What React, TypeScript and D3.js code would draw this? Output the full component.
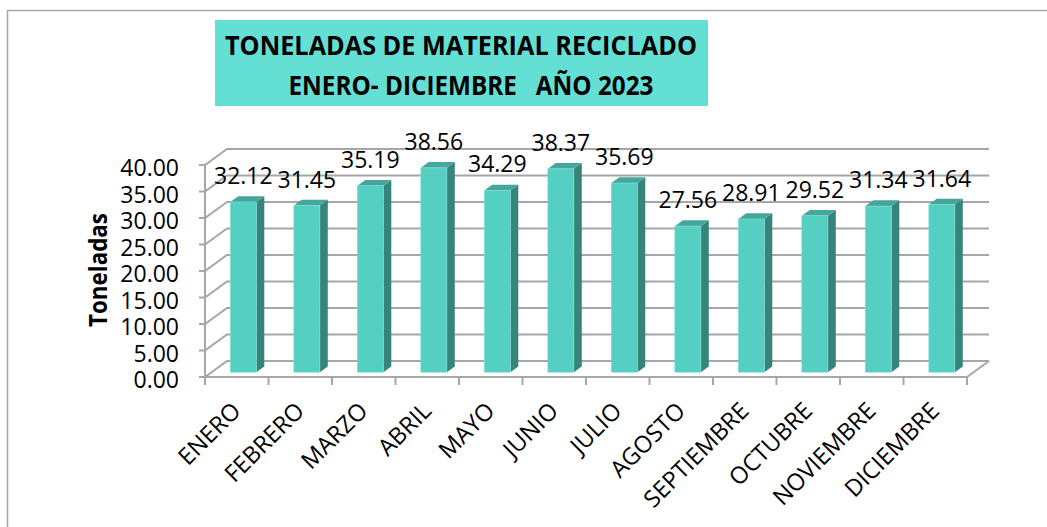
import React from "react";
import * as d3 from "d3";

const months = ["ENERO","FEBRERO","MARZO","ABRIL","MAYO","JUNIO","JULIO","AGOSTO","SEPTIEMBRE","OCTUBRE","NOVIEMBRE","DICIEMBRE"];
const values = [32.12,31.45,35.19,38.56,34.29,38.37,35.69,27.56,28.91,29.52,31.34,31.64];
const yTicks = [0,5,10,15,20,25,30,35,40];
const titleLines = ["TONELADAS DE MATERIAL RECICLADO","ENERO- DICIEMBRE   AÑO 2023"];
const yAxisTitle = "Toneladas";

const W = 1047, H = 527;
const DX = 22, DY = -16; // depth of the 3D walls
const FONT = "'Open Sans', 'Noto Sans', sans-serif";

export default function App() {
  const x = d3.scaleBand<string>().domain(months).range([205, 967]).paddingInner(0).paddingOuter(0);
  const y = d3.scaleLinear().domain([0, 40]).range([377, 165]);
  const grid = "#a6a6a6";
  const bw = x.bandwidth() * 0.41;
  const offX = DX * 0.3, offY = DY * 0.3; // bar placement depth
  const dX = DX * 0.36, dY = DY * 0.36; // bar depth
  const fmt = d3.format(".2f");

  return (
    <svg width={W} height={H} style={{ position: "fixed", left: 0, top: 0, background: "#fff" }}>
      <rect x={7.5} y={10.5} width={W + 20} height={H + 20} fill="#fff" stroke={grid} strokeWidth={1.5} />
      {/* title */}
      <rect x={215} y={20} width={493} height={86} fill="#64dfd4" />
      <text x={461} y={54.5} textAnchor="middle" fontFamily={FONT} fontWeight="bold" fontSize={27} textLength={472} lengthAdjust="spacingAndGlyphs" fill="#000">{titleLines[0]}</text>
      <text x={471} y={94.5} textAnchor="middle" fontFamily={FONT} fontWeight="bold" fontSize={27} textLength={365} lengthAdjust="spacingAndGlyphs" fill="#000" style={{ whiteSpace: "pre" }}>{titleLines[1]}</text>

      {/* walls and gridlines */}
      <line x1={205} y1={y(0)} x2={205} y2={y(40)} stroke={grid} strokeWidth={2} />
      {yTicks.map((t) => (
        <g key={t}>
          <polyline points={`199,${y(t)} 205,${y(t)} ${205 + DX},${y(t) + DY} ${967 + DX},${y(t) + DY}`} fill="none" stroke={grid} strokeWidth={2} />
          <text x={179} y={y(t) + 2} textAnchor="end" dominantBaseline="central" fontFamily={FONT} fontSize={23} fill="#000">{fmt(t)}</text>
        </g>
      ))}
      {/* floor */}
      <polyline points={`205,${y(0)} 967,${y(0)} ${967 + DX},${y(0) + DY}`} fill="none" stroke={grid} strokeWidth={2} />
      {months.map((m) => (
        <line key={m} x1={x(m)!} x2={x(m)!} y1={y(0)} y2={y(0) + 8} stroke={grid} strokeWidth={2} />
      ))}
      <line x1={967} x2={967} y1={y(0)} y2={y(0) + 8} stroke={grid} strokeWidth={2} />

      {/* bars */}
      {months.map((m, i) => {
        const cx = x(m)! + x.bandwidth() / 2 + offX;
        const x0 = cx - bw / 2, x1 = cx + bw / 2;
        const yb = y(0) + offY;
        const yt = y(values[i]) + offY;
        return (
          <g key={m}>
            <polygon points={`${x1},${yt} ${x1 + dX},${yt + dY} ${x1 + dX},${yb + dY} ${x1},${yb}`} fill="#37847a" />
            <polygon points={`${x0},${yt} ${x1},${yt} ${x1 + dX},${yt + dY} ${x0 + dX},${yt + dY}`} fill="#45a69b" />
            <rect x={x0} y={yt} width={bw} height={yb - yt} fill="#55cfc2" stroke="#7fe0d6" strokeWidth={0.6} />
            <text x={cx} y={yt - 18} textAnchor="middle" fontFamily={FONT} fontSize={23} fill="#000">{fmt(values[i])}</text>
          </g>
        );
      })}

      {/* category labels */}
      {months.map((m) => {
        const cx = x(m)! + x.bandwidth() / 2;
        return (
          <text key={m} transform={`translate(${cx - 1},${406}) rotate(-45)`} textAnchor="end" dominantBaseline="central" fontFamily={FONT} fontSize={23.5} fill="#000">{m}</text>
        );
      })}

      {/* y axis title */}
      <text transform="translate(97,270) rotate(-90)" textAnchor="middle" dominantBaseline="central" fontFamily={FONT} fontWeight="bold" fontSize={25} textLength={114} lengthAdjust="spacingAndGlyphs" fill="#000">{yAxisTitle}</text>
    </svg>
  );
}
